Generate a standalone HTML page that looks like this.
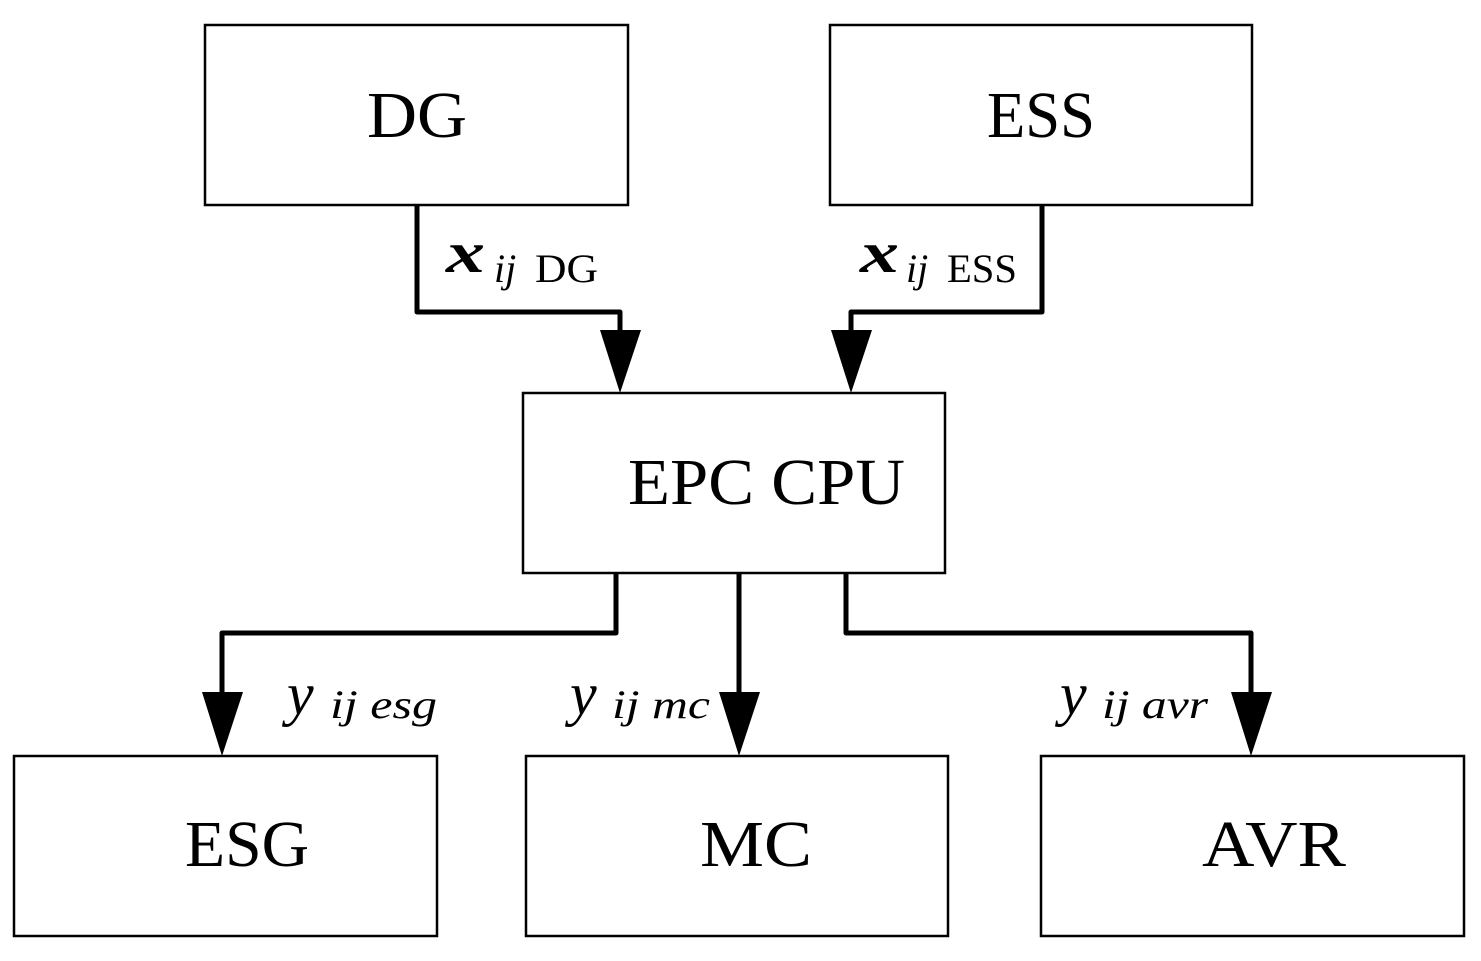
<!DOCTYPE html>
<html><head><style>
body{margin:0;background:#fff}
svg{display:block}
text{font-family:"Liberation Serif",serif;fill:#000}
</style></head><body>
<svg width="1481" height="961" xmlns="http://www.w3.org/2000/svg">
<g fill="none" stroke="#000" stroke-width="2.5">
<rect x="205" y="25" width="423" height="180"/>
<rect x="830" y="25" width="422" height="180"/>
<rect x="523" y="393" width="422" height="180"/>
<rect x="14" y="756" width="423" height="180"/>
<rect x="526" y="756" width="422" height="180"/>
<rect x="1041" y="756" width="423" height="180"/>
</g>
<g fill="none" stroke="#000" stroke-width="5" stroke-linejoin="round">
<polyline points="417,205 417,312 620,312 620,340"/>
<polyline points="1042,205 1042,312 851,312 851,340"/>
<polyline points="616,573 616,633 222,633 222,700"/>
<polyline points="739,573 739,700"/>
<polyline points="846,573 846,633 1251,633 1251,700"/>
</g>
<g fill="#000">
<polygon points="600,330 641,330 620,393"/>
<polygon points="831,330 872,330 851,393"/>
<polygon points="202,692 243,692 222,756"/>
<polygon points="719,692 760,692 739,756"/>
<polygon points="1231,692 1272,692 1251,756"/>
</g>
<g font-size="66">
<text x="367" y="137" textLength="100" lengthAdjust="spacingAndGlyphs">DG</text>
<text x="987" y="137" textLength="108" lengthAdjust="spacingAndGlyphs">ESS</text>
<text x="628" y="504" textLength="277" lengthAdjust="spacingAndGlyphs">EPC CPU</text>
<text x="185" y="866" textLength="124" lengthAdjust="spacingAndGlyphs">ESG</text>
<text x="700" y="866" textLength="112" lengthAdjust="spacingAndGlyphs">MC</text>
<text x="1202" y="866" textLength="144" lengthAdjust="spacingAndGlyphs">AVR</text>
</g>
<g font-size="40">
<text x="446" y="272" font-size="58" font-style="italic" font-weight="bold" textLength="39" lengthAdjust="spacingAndGlyphs">x</text>
<text x="494" y="282" font-style="italic">ij</text>
<text x="535" y="282" textLength="63" lengthAdjust="spacingAndGlyphs">DG</text>
<text x="860" y="272" font-size="58" font-style="italic" font-weight="bold" textLength="39" lengthAdjust="spacingAndGlyphs">x</text>
<text x="906" y="282" font-style="italic">ij</text>
<text x="947" y="282" textLength="70" lengthAdjust="spacingAndGlyphs">ESS</text>
<text x="287" y="714" font-size="60" font-style="italic">y</text>
<text x="330" y="718" font-style="italic" textLength="107" lengthAdjust="spacingAndGlyphs">ij esg</text>
<text x="570" y="714" font-size="60" font-style="italic">y</text>
<text x="612" y="718" font-style="italic" textLength="98" lengthAdjust="spacingAndGlyphs">ij mc</text>
<text x="1060" y="714" font-size="60" font-style="italic">y</text>
<text x="1102" y="718" font-style="italic" textLength="106" lengthAdjust="spacingAndGlyphs">ij avr</text>
</g>
</svg>
</body></html>
